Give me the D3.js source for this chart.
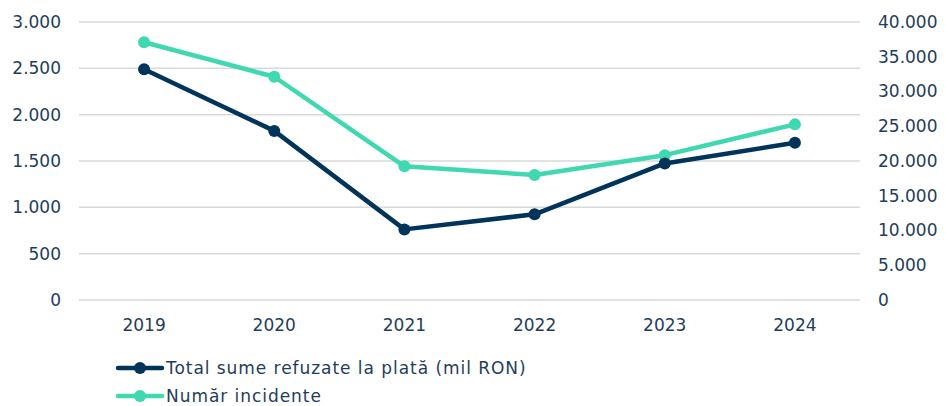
<!DOCTYPE html>
<html>
<head>
<meta charset="utf-8">
<script src="https://cdn.jsdelivr.net/npm/d3@7"></script>
<style>
  body { margin: 0; background: #fff; }
  text { font-family: "DejaVu Sans", "Noto Sans", sans-serif; fill: #1f3d5c; }
</style>
</head>
<body>
<svg id="chart" width="946" height="406"></svg>
<script>
// data
const years = ["2019", "2020", "2021", "2022", "2023", "2024"];
const sume = [2490, 1825, 762, 925, 1474, 1696];        // mil RON, left axis
const incidente = [37080, 32120, 19240, 17990, 20840, 25270]; // right axis
const leftTicks = [0, 500, 1000, 1500, 2000, 2500, 3000];
const rightTicks = [0, 5000, 10000, 15000, 20000, 25000, 30000, 35000, 40000];
const seriesNames = ["Total sume refuzate la plată (mil RON)", "Număr incidente"];
const colors = ["#00345a", "#3fd8b0"];

const svg = d3.select("#chart");
const plotLeft = 79, plotRight = 860, plotTop = 22, plotBottom = 300;

const x = d3.scaleBand().domain(years).range([plotLeft, plotRight]);
const yL = d3.scaleLinear().domain([0, 3000]).range([plotBottom, plotTop]);
const yR = d3.scaleLinear().domain([0, 40000]).range([plotBottom, plotTop]);

const fmt = v => d3.format(",")(v).replace(/,/g, ".");

// gridlines
svg.append("g").selectAll("line").data(leftTicks).join("line")
    .attr("x1", plotLeft).attr("x2", plotRight)
    .attr("y1", d => yL(d)).attr("y2", d => yL(d))
    .attr("stroke", "#d9d9d9").attr("stroke-width", 1.5);

// left axis labels
svg.append("g").selectAll("text").data(leftTicks).join("text")
    .attr("x", 61).attr("y", d => yL(d)).attr("dy", "0.35em")
    .attr("text-anchor", "end").attr("font-size", 17)
    .text(fmt);

// right axis labels
svg.append("g").selectAll("text").data(rightTicks).join("text")
    .attr("x", 878).attr("y", d => yR(d)).attr("dy", "0.35em")
    .attr("text-anchor", "start").attr("font-size", 17)
    .text(fmt);

// x labels
svg.append("g").selectAll("text").data(years).join("text")
    .attr("x", d => x(d) + x.bandwidth() / 2).attr("y", 325).attr("dy", "0.35em")
    .attr("text-anchor", "middle").attr("font-size", 17)
    .text(d => d);

function drawSeries(vals, yScale, color) {
    const pts = vals.map((v, i) => [x(years[i]) + x.bandwidth() / 2, yScale(v)]);
    svg.append("path")
        .attr("d", d3.line()(pts))
        .attr("fill", "none").attr("stroke", color)
        .attr("stroke-width", 4.5).attr("stroke-linejoin", "round");
    svg.append("g").selectAll("circle").data(pts).join("circle")
        .attr("cx", d => d[0]).attr("cy", d => d[1]).attr("r", 6)
        .attr("fill", color);
}

drawSeries(incidente, yR, colors[1]);
drawSeries(sume, yL, colors[0]);

// legend
const legend = svg.append("g");
seriesNames.forEach((name, i) => {
    const ly = 368 + i * 28;
    legend.append("line").attr("x1", 118).attr("x2", 162).attr("y1", ly).attr("y2", ly)
        .attr("stroke", colors[i]).attr("stroke-width", 4.5).attr("stroke-linecap", "round");
    legend.append("circle").attr("cx", 140).attr("cy", ly).attr("r", 6).attr("fill", colors[i]);
    legend.append("text").attr("x", 166).attr("y", ly).attr("dy", "0.35em")
        .attr("font-size", 17).attr("letter-spacing", 0.95).text(name);
});
</script>
</body>
</html>
